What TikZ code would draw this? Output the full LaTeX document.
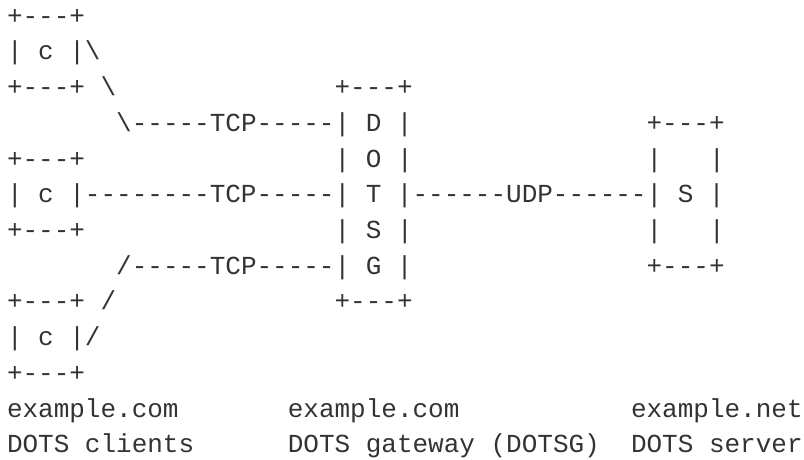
\documentclass[tikz,border=0pt]{standalone}
\usepackage{fontspec}
\setmonofont{Liberation Mono}
\definecolor{inkgray}{HTML}{333333}
\newcommand\asc[4]{\node[txt] (#1) at ({7+#2*15.6},{459-24.3-#3*35.7}) {#4};}
\begin{document}
\begin{tikzpicture}[x=1pt,y=1pt,
  txt/.style={anchor=base west, inner sep=0pt, outer sep=0pt,
    font=\fontsize{26}{26}\selectfont\ttfamily, text=inkgray}]
\useasboundingbox (0,0) rectangle (804,459);
% line 0
\asc{l0a}{0}{0}{+---+}
% line 1
\asc{l1a}{0}{1}{| c |\textbackslash}
% line 2
\asc{l2a}{0}{2}{+---+}
\asc{l2b}{6}{2}{\textbackslash}
\asc{l2c}{21}{2}{+---+}
% line 3
\asc{l3a}{7}{3}{\textbackslash-----TCP-----| D |}
\asc{l3b}{41}{3}{+---+}
% line 4
\asc{l4a}{0}{4}{+---+}
\asc{l4b}{21}{4}{| O |}
\asc{l4c}{41}{4}{|}
\asc{l4d}{45}{4}{|}
% line 5
\asc{l5a}{0}{5}{| c |--------TCP-----| T |------UDP------| S |}
% line 6
\asc{l6a}{0}{6}{+---+}
\asc{l6b}{21}{6}{| S |}
\asc{l6c}{41}{6}{|}
\asc{l6d}{45}{6}{|}
% line 7
\asc{l7a}{7}{7}{/-----TCP-----| G |}
\asc{l7b}{41}{7}{+---+}
% line 8
\asc{l8a}{0}{8}{+---+ /}
\asc{l8b}{21}{8}{+---+}
% line 9
\asc{l9a}{0}{9}{| c |/}
% line 10
\asc{l10a}{0}{10}{+---+}
% line 11
\asc{l11a}{0}{11}{example.com}
\asc{l11b}{18}{11}{example.com}
\asc{l11c}{40}{11}{example.net}
% line 12
\asc{l12a}{0}{12}{DOTS clients}
\asc{l12b}{18}{12}{DOTS gateway (DOTSG)}
\asc{l12c}{40}{12}{DOTS server}
\end{tikzpicture}
\end{document}
